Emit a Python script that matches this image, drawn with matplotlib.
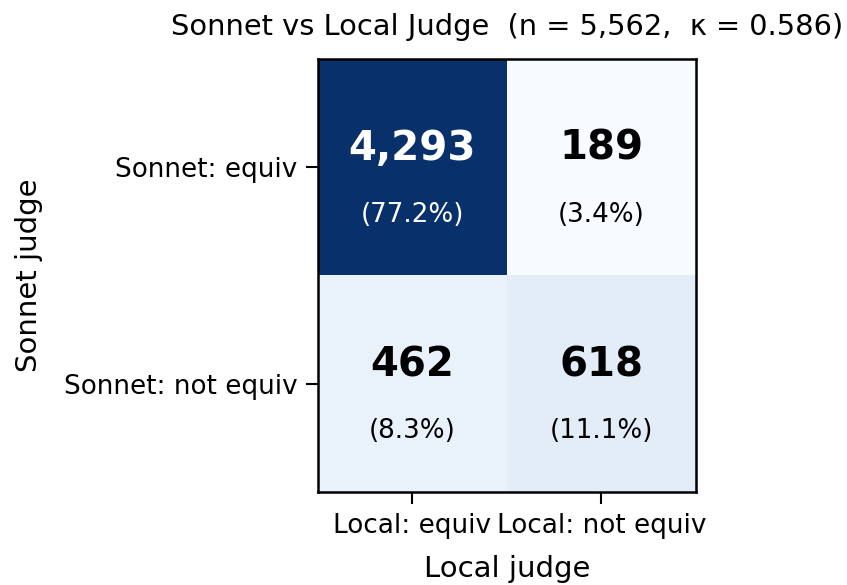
import matplotlib.pyplot as plt
import numpy as np

row_labels = ['Sonnet: equiv', 'Sonnet: not equiv']
col_labels = ['Local: equiv', 'Local: not equiv']
counts = np.array([[4293, 189],
                   [462, 618]])
n_total = 5562
kappa = 0.586


def main():
    fig = plt.figure(figsize=(8.47, 5.85), dpi=100)
    ax = fig.add_axes([0.3754, 0.159, 0.4463, 0.7401])
    ax.imshow(counts, cmap='Blues', vmin=counts.min(), vmax=counts.max(), aspect='auto')

    pct = counts / counts.sum() * 100
    for i in range(2):
        for j in range(2):
            c = 'white' if counts[i, j] > counts.max() / 2 else 'black'
            ax.text(j, i - 0.085, f'{counts[i, j]:,}', ha='center', va='center',
                    fontsize=29, fontweight='bold', color=c)
            ax.text(j, i + 0.22, f'({pct[i, j]:.1f}%)', ha='center', va='center',
                    fontsize=18.8, color=c)

    ax.set_xticks([0, 1])
    ax.set_xticklabels(col_labels, fontsize=18.9)
    ax.set_yticks([0, 1])
    ax.set_yticklabels(row_labels, fontsize=18.9)
    ax.tick_params(length=8.5, width=1.5, pad=6.5)
    for s in ax.spines.values():
        s.set_linewidth(1.8)
    ax.set_xlabel('Local judge', fontsize=21, labelpad=12)
    ax.set_ylabel('Sonnet judge', fontsize=21, labelpad=15)
    ax.set_title(f'Sonnet vs Local Judge  (n = {n_total:,},  κ = {kappa:.3f})',
                 fontsize=20.75, pad=17)
    fig.savefig('out.png', dpi=100)


if __name__ == "__main__":
    main()
